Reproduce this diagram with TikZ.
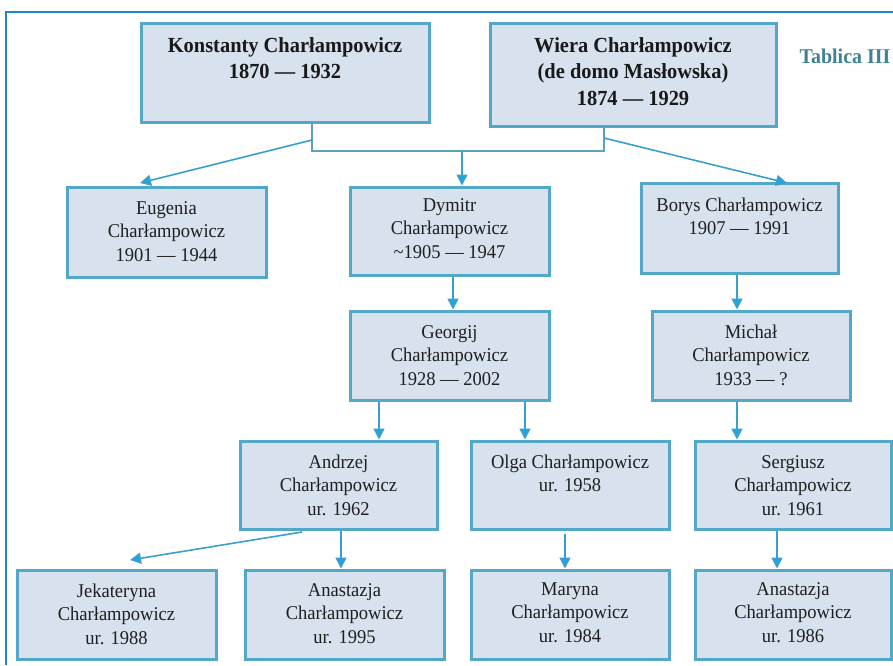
\documentclass[tikz,border=0pt]{standalone}
\usepackage{fontspec}
\setmainfont{Liberation Serif}[FakeStretch=0.95]
\usetikzlibrary{arrows.meta}
\definecolor{boxfill}{HTML}{D7E2EE}
\definecolor{boxline}{HTML}{52A8C6}
\definecolor{arr}{HTML}{3A9FD0}
\definecolor{tip}{HTML}{22A5DE}
\definecolor{brk}{HTML}{5E9FBA}
\definecolor{frame}{HTML}{1E86D8}
\definecolor{tabl}{HTML}{3E8290}
\begin{document}
\begin{tikzpicture}[x=1pt,y=-1pt,
  famb/.style={draw=boxline, line width=3pt, fill=boxfill},
  txt/.style={align=center, anchor=base, inner sep=0pt, text=black!88, font=\fontsize{19.5}{23.5}\selectfont},
  btxt/.style={align=center, anchor=base, inner sep=0pt, text=black!90, font=\fontsize{21.5}{26.5}\selectfont\bfseries},
  link/.style={draw=arr, line width=1.6pt, -{Triangle[length=11pt,width=11pt,fill=tip]}},
  brack/.style={draw=brk, line width=1.6pt}]
\useasboundingbox (0,0) rectangle (893,665);
% frame
\draw[frame, line width=1.3pt] (6,665) -- (6,12) -- (893,12);
% boxes
\node[famb, minimum width=288pt, minimum height=99pt] (kon) at (285,72.5) {};
\node[famb, minimum width=286pt, minimum height=103pt] (wie) at (633,74.5) {};
\node[famb, minimum width=199pt, minimum height=90pt] (eug) at (166.5,232) {};
\node[famb, minimum width=199pt, minimum height=88pt] (dym) at (449.5,231) {};
\node[famb, minimum width=197pt, minimum height=90pt] (bor) at (739.5,228) {};
\node[famb, minimum width=199pt, minimum height=89pt] (geo) at (449.5,355.5) {};
\node[famb, minimum width=198pt, minimum height=89pt] (mic) at (751,355.5) {};
\node[famb, minimum width=197pt, minimum height=88pt] (and) at (338.5,485) {};
\node[famb, minimum width=198pt, minimum height=88pt] (olg) at (570,485) {};
\node[famb, minimum width=196pt, minimum height=88pt] (ser) at (793,485) {};
\node[famb, minimum width=199pt, minimum height=89pt] (jek) at (116.5,614.5) {};
\node[famb, minimum width=199pt, minimum height=89pt] (an1) at (344.5,614.5) {};
\node[famb, minimum width=198pt, minimum height=89pt] (mar) at (570,614.5) {};
\node[famb, minimum width=196pt, minimum height=89pt] (an2) at (793,614.5) {};
% texts (anchored at the baseline of the last line)
\node[btxt] (kon-t) at (285,78.5) {Konstanty Charłampowicz\\1870 — 1932};
\node[btxt] (wie-t) at (633,105) {Wiera Charłampowicz\\(de domo Masłowska)\\1874 — 1929};
\node[anchor=base, inner sep=0pt, text=tabl, font=\fontsize{21}{24}\selectfont\bfseries] (tab) at (845,63) {Tablica III};
\node[txt] (eug-t) at (166.5,261) {Eugenia\\Charłampowicz\\1901 — 1944};
\node[txt] (dym-t) at (449.5,258) {Dymitr\\Charłampowicz\\\textasciitilde1905 — 1947};
\node[txt] (bor-t) at (739.5,234.5) {Borys Charłampowicz\\1907 — 1991};
\node[txt] (geo-t) at (449.5,385) {Georgij\\Charłampowicz\\1928 — 2002};
\node[txt] (mic-t) at (751,385) {Michał\\Charłampowicz\\1933 — ?};
\node[txt] (and-t) at (338.5,515) {Andrzej\\Charłampowicz\\ur. 1962};
\node[txt] (olg-t) at (570,491.5) {Olga Charłampowicz\\ur. 1958};
\node[txt] (ser-t) at (793,515) {Sergiusz\\Charłampowicz\\ur. 1961};
\node[txt] (jek-t) at (116.5,644) {Jekateryna\\Charłampowicz\\ur. 1988};
\node[txt] (an1-t) at (344.5,643) {Anastazja\\Charłampowicz\\ur. 1995};
\node[txt] (mar-t) at (570,642) {Maryna\\Charłampowicz\\ur. 1984};
\node[txt] (an2-t) at (793,642) {Anastazja\\Charłampowicz\\ur. 1986};
% connectors
\coordinate (bl) at (312,151);
\coordinate (br) at (604,151);
\coordinate (bm) at (462,151);
\coordinate (dl) at (312,140);
\coordinate (dr) at (604,138);
\draw[brack] (kon.south -| bl) -- (bl) -- (br) -- (wie.south -| br);
\draw[link] (bm) -- (dym.north -| bm);
\coordinate (eugtip) at (140,183);
\coordinate (bortip) at (787,183);
\draw[link] (dl) -- (eugtip);
\draw[link] (dr) -- (bortip);
\coordinate (dg) at (453,0);
\draw[link] (dym.south -| dg) -- (geo.north -| dg);
\coordinate (bmx) at (737,0);
\draw[link] (bor.south -| bmx) -- (mic.north -| bmx);
\coordinate (ga) at (379,0);
\coordinate (go) at (525,0);
\draw[link] (geo.south -| ga) -- (and.north -| ga);
\draw[link] (geo.south -| go) -- (olg.north -| go);
\draw[link] (mic.south -| bmx) -- (ser.north -| bmx);
\coordinate (ajs) at (302,532);
\coordinate (ajt) at (130,560);
\draw[link] (ajs) -- (ajt);
\coordinate (aa) at (341,0);
\draw[link] (and.south -| aa) -- (an1.north -| aa);
\coordinate (om) at (565,534);
\draw[link] (om) -- (mar.north -| om);
\coordinate (sa) at (777,0);
\draw[link] (ser.south -| sa) -- (an2.north -| sa);
\end{tikzpicture}
\end{document}
